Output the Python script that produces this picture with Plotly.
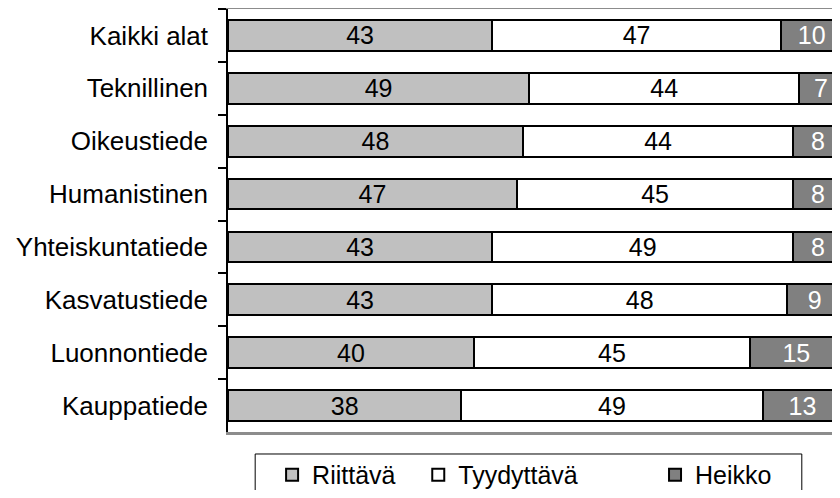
import plotly.graph_objects as go

# ---------- data ----------
categories = ["Kaikki alat", "Teknillinen", "Oikeustiede", "Humanistinen",
              "Yhteiskuntatiede", "Kasvatustiede", "Luonnontiede", "Kauppatiede"]
riittava = [43, 49, 48, 47, 43, 43, 40, 38]
tyydyttava = [47, 44, 44, 45, 49, 48, 45, 49]
heikko = [10, 7, 8, 8, 8, 9, 15, 13]

# name, values, fill, text colour, legend id, legend x (paper)
series = [
    ("Riittävä", riittava, "#c0c0c0", "#000000", "legend", 0.073),
    ("Tyydyttävä", tyydyttava, "#ffffff", "#000000", "legend2", 0.315),
    ("Heikko", heikko, "#808080", "#ffffff", "legend3", 0.707),
]

FONT = "Liberation Sans, Arial, sans-serif"

fig = go.Figure()
legends = {}
for name, vals, fill, txt, leg, lx in series:
    fig.add_trace(go.Bar(
        y=categories,
        x=vals,
        name=name,
        orientation="h",
        legend=leg,
        marker=dict(color=fill, line=dict(color="#000000", width=2)),
        text=vals,
        textposition="inside",
        insidetextanchor="middle",
        textangle=0,
        constraintext="none",
        textfont=dict(color=txt, size=25, family=FONT),
        hovertemplate=name + ": %{x}<extra>%{y}</extra>",
    ))
    # one legend per entry so the entries sit where the original has them
    legends[leg] = dict(
        orientation="h",
        x=lx, xanchor="left",
        y=-0.047, yanchor="top",
        borderwidth=0,
        bgcolor="rgba(0,0,0,0)",
        font=dict(size=25, family=FONT, color="#000000"),
    )

fig.update_layout(
    barmode="stack",
    bargap=0.42,
    width=824,
    height=482,
    margin=dict(l=220, r=0, t=1, b=58, autoexpand=False),
    paper_bgcolor="white",
    plot_bgcolor="white",
    font=dict(family=FONT, size=26, color="#000000"),
    showlegend=True,
    **legends,
)

# frame around the legend entries (open at the bottom, like the original)
fig.add_shape(type="rect", xref="paper", yref="paper",
              x0=0.045, x1=0.950, y0=-0.052, y1=-0.30,
              line=dict(color="#000000", width=1), fillcolor="rgba(0,0,0,0)",
              layer="below")

fig.update_xaxes(
    range=[0, 98.3],
    showgrid=False,
    zeroline=False,
    showticklabels=False,
    ticks="",
    showline=True,
    linecolor="#8c8c8c",
    linewidth=2.5,
    mirror=True,
)
fig.update_yaxes(
    categoryorder="array",
    categoryarray=categories,
    autorange="reversed",
    showgrid=False,
    showline=True,
    linecolor="#000000",
    linewidth=1.5,
    ticks="outside",
    tickson="boundaries",
    ticklen=8,
    tickcolor="#000000",
    tickwidth=1.5,
    ticklabelstandoff=13,
    tickfont=dict(size=26, family=FONT),
)

fig.write_html("out.html")
